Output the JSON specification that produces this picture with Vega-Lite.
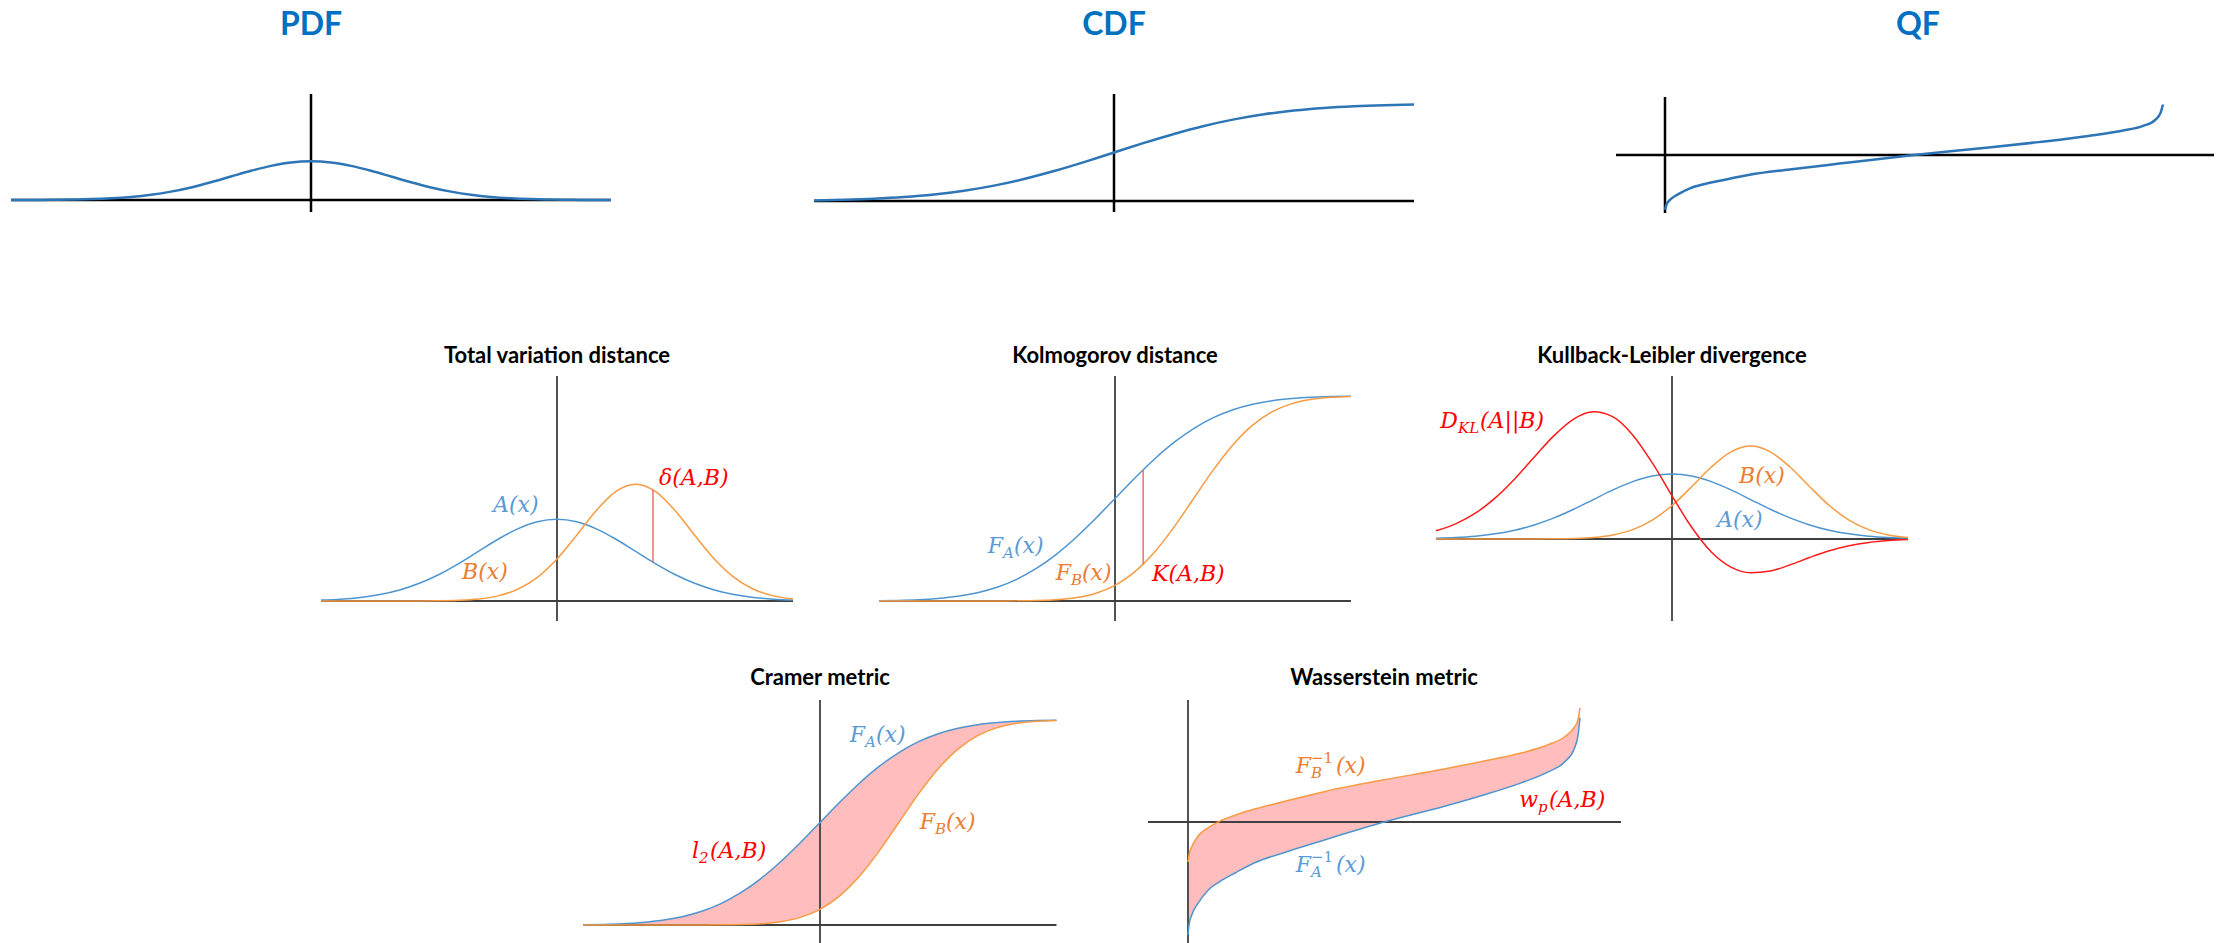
{
  "$schema": "https://vega.github.io/schema/vega-lite/v6.json",
  "background": "white",
  "padding": 0,
  "config": {"view": {"stroke": null}},
  "datasets": {
    "stdNormal": [
      {"x": -4, "pdf": 0.00013, "cdf": 0.00003},
      {"x": -3.75, "pdf": 0.00035, "cdf": 0.00009},
      {"x": -3.5, "pdf": 0.00087, "cdf": 0.00023},
      {"x": -3.25, "pdf": 0.00203, "cdf": 0.00058},
      {"x": -3, "pdf": 0.00443, "cdf": 0.00135},
      {"x": -2.75, "pdf": 0.00909, "cdf": 0.00298},
      {"x": -2.5, "pdf": 0.01753, "cdf": 0.00621},
      {"x": -2.25, "pdf": 0.03174, "cdf": 0.01222},
      {"x": -2, "pdf": 0.05399, "cdf": 0.02275},
      {"x": -1.75, "pdf": 0.08628, "cdf": 0.04006},
      {"x": -1.5, "pdf": 0.12952, "cdf": 0.06681},
      {"x": -1.25, "pdf": 0.18265, "cdf": 0.10565},
      {"x": -1, "pdf": 0.24197, "cdf": 0.15866},
      {"x": -0.75, "pdf": 0.30114, "cdf": 0.22663},
      {"x": -0.5, "pdf": 0.35207, "cdf": 0.30854},
      {"x": -0.25, "pdf": 0.38667, "cdf": 0.40129},
      {"x": 0, "pdf": 0.39894, "cdf": 0.5},
      {"x": 0.25, "pdf": 0.38667, "cdf": 0.59871},
      {"x": 0.5, "pdf": 0.35207, "cdf": 0.69146},
      {"x": 0.75, "pdf": 0.30114, "cdf": 0.77337},
      {"x": 1, "pdf": 0.24197, "cdf": 0.84134},
      {"x": 1.25, "pdf": 0.18265, "cdf": 0.89435},
      {"x": 1.5, "pdf": 0.12952, "cdf": 0.93319},
      {"x": 1.75, "pdf": 0.08628, "cdf": 0.95994},
      {"x": 2, "pdf": 0.05399, "cdf": 0.97725},
      {"x": 2.25, "pdf": 0.03174, "cdf": 0.98778},
      {"x": 2.5, "pdf": 0.01753, "cdf": 0.99379},
      {"x": 2.75, "pdf": 0.00909, "cdf": 0.99702},
      {"x": 3, "pdf": 0.00443, "cdf": 0.99865},
      {"x": 3.25, "pdf": 0.00203, "cdf": 0.99942},
      {"x": 3.5, "pdf": 0.00087, "cdf": 0.99977},
      {"x": 3.75, "pdf": 0.00035, "cdf": 0.99991},
      {"x": 4, "pdf": 0.00013, "cdf": 0.99997}
    ],
    "pair": [
      {"x": -3, "a": 0.00443, "b": 0.0, "fa": 0.00135, "fb": 0.0, "kl": 0.05083},
      {"x": -2.75, "a": 0.00909, "b": 0.0000003, "fa": 0.00298, "fb": 0.0, "kl": 0.09286},
      {"x": -2.5, "a": 0.01753, "b": 0.000002, "fa": 0.00621, "fb": 0.0000003, "kl": 0.15807},
      {"x": -2.25, "a": 0.03174, "b": 0.000012, "fa": 0.01222, "fb": 0.000002, "kl": 0.25043},
      {"x": -2, "a": 0.05399, "b": 0.000058, "fa": 0.02275, "fb": 0.000009, "kl": 0.36861},
      {"x": -1.75, "a": 0.08628, "b": 0.00025, "fa": 0.04006, "fb": 0.00004, "kl": 0.50291},
      {"x": -1.5, "a": 0.12952, "b": 0.00097, "fa": 0.06681, "fb": 0.00018, "kl": 0.63413},
      {"x": -1.25, "a": 0.18265, "b": 0.00325, "fa": 0.10565, "fb": 0.00065, "kl": 0.73571},
      {"x": -1, "a": 0.24197, "b": 0.00962, "fa": 0.15866, "fb": 0.00214, "kl": 0.78036},
      {"x": -0.75, "a": 0.30114, "b": 0.02504, "fa": 0.22663, "fb": 0.00621, "kl": 0.74893},
      {"x": -0.5, "a": 0.35207, "b": 0.05736, "fa": 0.30854, "fb": 0.01606, "kl": 0.63865},
      {"x": -0.25, "a": 0.38667, "b": 0.1157, "fa": 0.40129, "fb": 0.03706, "kl": 0.46652},
      {"x": 0, "a": 0.39894, "b": 0.20543, "fa": 0.5, "fb": 0.07656, "kl": 0.26478},
      {"x": 0.25, "a": 0.38667, "b": 0.32102, "fa": 0.59871, "fb": 0.14199, "kl": 0.07194},
      {"x": 0.5, "a": 0.35207, "b": 0.44156, "fa": 0.69146, "fb": 0.23753, "kl": -0.07977},
      {"x": 0.75, "a": 0.30114, "b": 0.53471, "fa": 0.77337, "fb": 0.36051, "kl": -0.1729},
      {"x": 1, "a": 0.24197, "b": 0.56992, "fa": 0.84134, "fb": 0.5, "kl": -0.20729},
      {"x": 1.25, "a": 0.18265, "b": 0.53471, "fa": 0.89435, "fb": 0.63949, "kl": -0.19619},
      {"x": 1.5, "a": 0.12952, "b": 0.44156, "fa": 0.93319, "fb": 0.76247, "kl": -0.15886},
      {"x": 1.75, "a": 0.08628, "b": 0.32102, "fa": 0.95994, "fb": 0.85801, "kl": -0.11336},
      {"x": 2, "a": 0.05399, "b": 0.20543, "fa": 0.97725, "fb": 0.92344, "kl": -0.07215},
      {"x": 2.25, "a": 0.03174, "b": 0.1157, "fa": 0.98778, "fb": 0.96294, "kl": -0.04106},
      {"x": 2.5, "a": 0.01753, "b": 0.05736, "fa": 0.99379, "fb": 0.98394, "kl": -0.02078},
      {"x": 2.75, "a": 0.00909, "b": 0.02504, "fa": 0.99702, "fb": 0.99379, "kl": -0.00921},
      {"x": 3, "a": 0.00443, "b": 0.00962, "fa": 0.99865, "fb": 0.99786, "kl": -0.00344}
    ],
    "quant": [
      {"p": 0, "qa": -3.32, "qb": -1.18},
      {"p": 0.003, "qa": -3.0, "qb": -0.95},
      {"p": 0.01, "qa": -2.72, "qb": -0.72},
      {"p": 0.025, "qa": -2.4, "qb": -0.42},
      {"p": 0.05, "qa": -2.02, "qb": -0.18},
      {"p": 0.08, "qa": -1.76, "qb": 0.02},
      {"p": 0.12, "qa": -1.5, "qb": 0.2},
      {"p": 0.17, "qa": -1.2, "qb": 0.38},
      {"p": 0.25, "qa": -0.88, "qb": 0.62},
      {"p": 0.35, "qa": -0.52, "qb": 0.9},
      {"p": 0.5, "qa": 0, "qb": 1.24},
      {"p": 0.65, "qa": 0.45, "qb": 1.55},
      {"p": 0.75, "qa": 0.78, "qb": 1.78},
      {"p": 0.85, "qa": 1.15, "qb": 2.03},
      {"p": 0.92, "qa": 1.48, "qb": 2.28},
      {"p": 0.96, "qa": 1.76, "qb": 2.5},
      {"p": 0.985, "qa": 2.15, "qb": 2.78},
      {"p": 0.995, "qa": 2.55, "qb": 3.02},
      {"p": 1, "qa": 3.06, "qb": 3.36}
    ],
    "labelsTV": [
      {"x": -0.8135, "y": 0.434, "series": "A", "part": "whole", "text": "A(x)"},
      {"x": -1.2076, "y": 0.1073, "series": "B", "part": "whole", "text": "B(x)"},
      {"x": 1.2966, "y": 0.5659, "series": "D", "part": "whole", "text": "δ(A,B)"}
    ],
    "labelsK": [
      {"x": -1.4237, "y": 0.2341, "series": "A", "part": "main", "text": "F"},
      {"x": -1.4237, "y": 0.2341, "series": "A", "part": "sub", "text": "A"},
      {"x": -1.4237, "y": 0.2341, "series": "A", "part": "tail", "text": "(x)"},
      {"x": -0.5593, "y": 0.1024, "series": "B", "part": "main", "text": "F"},
      {"x": -0.5593, "y": 0.1024, "series": "B", "part": "sub", "text": "B"},
      {"x": -0.5593, "y": 0.1024, "series": "B", "part": "tail", "text": "(x)"},
      {"x": 0.4703, "y": 0.0976, "series": "D", "part": "whole", "text": "K(A,B)"}
    ],
    "labelsKL": [
      {"x": -2.7202, "y": 0.681, "series": "D", "part": "main", "text": "D"},
      {"x": -2.7202, "y": 0.681, "series": "D", "part": "sub", "text": "KL"},
      {"x": -2.7202, "y": 0.681, "series": "D", "part": "tailwide", "text": "(A||B)"},
      {"x": 0.8517, "y": 0.3436, "series": "B", "part": "whole", "text": "B(x)"},
      {"x": 0.572, "y": 0.0736, "series": "A", "part": "whole", "text": "A(x)"}
    ],
    "labelsCR": [
      {"x": 0.5708, "y": 0.8927, "series": "A", "part": "main", "text": "F"},
      {"x": 0.5708, "y": 0.8927, "series": "A", "part": "sub", "text": "A"},
      {"x": 0.5708, "y": 0.8927, "series": "A", "part": "tail", "text": "(x)"},
      {"x": 1.4588, "y": 0.4683, "series": "B", "part": "main", "text": "F"},
      {"x": 1.4588, "y": 0.4683, "series": "B", "part": "sub", "text": "B"},
      {"x": 1.4588, "y": 0.4683, "series": "B", "part": "tail", "text": "(x)"},
      {"x": -1.535, "y": 0.3268, "series": "D", "part": "main", "text": "l"},
      {"x": -1.535, "y": 0.3268, "series": "D", "part": "sub", "text": "2"},
      {"x": -1.535, "y": 0.3268, "series": "D", "part": "tail", "text": "(A,B)"}
    ],
    "labelsW": [
      {"x": 0.3138, "y": 1.441, "series": "B", "part": "main", "text": "F"},
      {"x": 0.3138, "y": 1.441, "series": "B", "part": "sub", "text": "B"},
      {"x": 0.3138, "y": 1.441, "series": "B", "part": "sup", "text": "−1"},
      {"x": 0.3138, "y": 1.441, "series": "B", "part": "tailwide", "text": "(x)"},
      {"x": 0.3138, "y": -1.4706, "series": "A", "part": "main", "text": "F"},
      {"x": 0.3138, "y": -1.4706, "series": "A", "part": "sub", "text": "A"},
      {"x": 0.3138, "y": -1.4706, "series": "A", "part": "sup", "text": "−1"},
      {"x": 0.3138, "y": -1.4706, "series": "A", "part": "tailwide", "text": "(x)"},
      {"x": 0.8929, "y": 0.4412, "series": "D", "part": "main", "text": "w"},
      {"x": 0.8929, "y": 0.4412, "series": "D", "part": "sub", "text": "p"},
      {"x": 0.8929, "y": 0.4412, "series": "D", "part": "tail", "text": "(A,B)"}
    ]
  },
  "spacing": 0,
  "vconcat": [
    {
      "spacing": 0,
      "bounds": "flush",
      "hconcat": [
        {
          "width": 622, "height": 300,
          "layer": [
            {"data": {"values": [{}]}, "mark": {"type": "rule", "color": "#000000", "strokeWidth": 2.5},
             "encoding": {
               "x": {"datum": -3.75, "type": "quantitative", "scale": {"domain": [-3.8875, 3.8875], "nice": false, "zero": false}, "axis": null},
               "x2": {"datum": 3.75},
               "y": {"datum": 0, "type": "quantitative", "scale": {"domain": [-1.0309, 2.0619], "nice": false, "zero": false}, "axis": null}}},
            {"data": {"values": [{}]}, "mark": {"type": "rule", "color": "#000000", "strokeWidth": 2.5},
             "encoding": {
               "x": {"datum": 0, "type": "quantitative", "scale": {"domain": [-3.8875, 3.8875], "nice": false, "zero": false}, "axis": null},
               "y": {"datum": -0.1237, "type": "quantitative", "scale": {"domain": [-1.0309, 2.0619], "nice": false, "zero": false}, "axis": null},
               "y2": {"datum": 1.0928}}},
            {"data": {"name": "stdNormal"}, "transform": [{"filter": "datum.x >= -3.75 && datum.x <= 3.75"}],
             "mark": {"type": "line", "color": "#2e75b6", "strokeWidth": 2.5, "interpolate": "monotone"},
             "encoding": {
               "x": {"field": "x", "type": "quantitative", "scale": {"domain": [-3.8875, 3.8875], "nice": false, "zero": false}, "axis": null},
               "y": {"field": "pdf", "type": "quantitative", "scale": {"domain": [-1.0309, 2.0619], "nice": false, "zero": false}, "axis": null}}},
            {"data": {"values": [{}]},
             "mark": {"type": "text", "text": "PDF", "font": "Lato", "fontWeight": "bold", "fontSize": 32, "color": "#0070c0", "align": "center", "baseline": "alphabetic"},
             "encoding": {
               "x": {"datum": 0, "type": "quantitative", "scale": {"domain": [-3.8875, 3.8875], "nice": false, "zero": false}, "axis": null},
               "y": {"datum": 1.701, "type": "quantitative", "scale": {"domain": [-1.0309, 2.0619], "nice": false, "zero": false}, "axis": null}}}
          ]
        },
        {
          "width": 984, "height": 300,
          "layer": [
            {"data": {"values": [{}]}, "mark": {"type": "rule", "color": "#000000", "strokeWidth": 2.5},
             "encoding": {
               "x": {"datum": -2.5, "type": "quantitative", "scale": {"domain": [-4.1, 4.1], "nice": false, "zero": false}, "axis": null},
               "x2": {"datum": 2.5},
               "y": {"datum": 0, "type": "quantitative", "scale": {"domain": [-1.0206, 2.0722], "nice": false, "zero": false}, "axis": null}}},
            {"data": {"values": [{}]}, "mark": {"type": "rule", "color": "#000000", "strokeWidth": 2.5},
             "encoding": {
               "x": {"datum": 0, "type": "quantitative", "scale": {"domain": [-4.1, 4.1], "nice": false, "zero": false}, "axis": null},
               "y": {"datum": -0.1134, "type": "quantitative", "scale": {"domain": [-1.0206, 2.0722], "nice": false, "zero": false}, "axis": null},
               "y2": {"datum": 1.1031}}},
            {"data": {"name": "stdNormal"}, "transform": [{"filter": "datum.x >= -2.5 && datum.x <= 2.5"}],
             "mark": {"type": "line", "color": "#2e75b6", "strokeWidth": 2.5, "interpolate": "monotone"},
             "encoding": {
               "x": {"field": "x", "type": "quantitative", "scale": {"domain": [-4.1, 4.1], "nice": false, "zero": false}, "axis": null},
               "y": {"field": "cdf", "type": "quantitative", "scale": {"domain": [-1.0206, 2.0722], "nice": false, "zero": false}, "axis": null}}},
            {"data": {"values": [{}]},
             "mark": {"type": "text", "text": "CDF", "font": "Lato", "fontWeight": "bold", "fontSize": 32, "color": "#0070c0", "align": "center", "baseline": "alphabetic"},
             "encoding": {
               "x": {"datum": 0, "type": "quantitative", "scale": {"domain": [-4.1, 4.1], "nice": false, "zero": false}, "axis": null},
               "y": {"datum": 1.7113, "type": "quantitative", "scale": {"domain": [-1.0206, 2.0722], "nice": false, "zero": false}, "axis": null}}}
          ]
        },
        {
          "width": 618, "height": 300,
          "layer": [
            {"data": {"values": [{}]}, "mark": {"type": "rule", "color": "#000000", "strokeWidth": 2.5},
             "encoding": {
               "x": {"datum": -0.0984, "type": "quantitative", "scale": {"domain": [-0.11847, 1.12249], "nice": false, "zero": false}, "axis": null},
               "x2": {"datum": 1.1024},
               "y": {"datum": 0, "type": "quantitative", "scale": {"domain": [-8.7879, 9.3939], "nice": false, "zero": false}, "axis": null}}},
            {"data": {"values": [{}]}, "mark": {"type": "rule", "color": "#000000", "strokeWidth": 2.5},
             "encoding": {
               "x": {"datum": 0, "type": "quantitative", "scale": {"domain": [-0.11847, 1.12249], "nice": false, "zero": false}, "axis": null},
               "y": {"datum": -3.515, "type": "quantitative", "scale": {"domain": [-8.7879, 9.3939], "nice": false, "zero": false}, "axis": null},
               "y2": {"datum": 3.515}}},
            {"data": {"name": "quant"},
             "mark": {"type": "line", "color": "#2e75b6", "strokeWidth": 2.5, "interpolate": "monotone"},
             "encoding": {
               "x": {"field": "p", "type": "quantitative", "scale": {"domain": [-0.11847, 1.12249], "nice": false, "zero": false}, "axis": null},
               "y": {"field": "qa", "type": "quantitative", "scale": {"domain": [-8.7879, 9.3939], "nice": false, "zero": false}, "axis": null}}},
            {"data": {"values": [{}]},
             "mark": {"type": "text", "text": "QF", "font": "Lato", "fontWeight": "bold", "fontSize": 32, "color": "#0070c0", "align": "center", "baseline": "alphabetic"},
             "encoding": {
               "x": {"datum": 0.508, "type": "quantitative", "scale": {"domain": [-0.11847, 1.12249], "nice": false, "zero": false}, "axis": null},
               "y": {"datum": 7.2727, "type": "quantitative", "scale": {"domain": [-8.7879, 9.3939], "nice": false, "zero": false}, "axis": null}}}
          ]
        }
      ]
    },
    {
      "spacing": 0,
      "bounds": "flush",
      "hconcat": [
        {"width": 300, "height": 10, "data": {"values": []}, "mark": "point", "encoding": {}},
        {
          "width": 514, "height": 340,
          "layer": [
            {"data": {"values": [{}]}, "mark": {"type": "rule", "color": "#404040", "strokeWidth": 1.8},
             "encoding": {
               "x": {"datum": -3, "type": "quantitative", "scale": {"domain": [-3.2668, 3.2668], "nice": false, "zero": false}, "axis": null},
               "x2": {"datum": 3},
               "y": {"datum": 0, "type": "quantitative", "scale": {"domain": [-0.1902, 1.4683], "nice": false, "zero": false}, "axis": null}}},
            {"data": {"values": [{}]}, "mark": {"type": "rule", "color": "#404040", "strokeWidth": 1.8},
             "encoding": {
               "x": {"datum": 0, "type": "quantitative", "scale": {"domain": [-3.2668, 3.2668], "nice": false, "zero": false}, "axis": null},
               "y": {"datum": -0.0976, "type": "quantitative", "scale": {"domain": [-0.1902, 1.4683], "nice": false, "zero": false}, "axis": null},
               "y2": {"datum": 1.0976}}},
            {"data": {"name": "pair"},
             "mark": {"type": "line", "color": "#4e95d0", "strokeWidth": 1.5, "interpolate": "monotone"},
             "encoding": {
               "x": {"field": "x", "type": "quantitative", "scale": {"domain": [-3.2668, 3.2668], "nice": false, "zero": false}, "axis": null},
               "y": {"field": "a", "type": "quantitative", "scale": {"domain": [-0.1902, 1.4683], "nice": false, "zero": false}, "axis": null}}},
            {"data": {"name": "pair"},
             "mark": {"type": "line", "color": "#f79b42", "strokeWidth": 1.5, "interpolate": "monotone"},
             "encoding": {
               "x": {"field": "x", "type": "quantitative", "scale": {"domain": [-3.2668, 3.2668], "nice": false, "zero": false}, "axis": null},
               "y": {"field": "b", "type": "quantitative", "scale": {"domain": [-0.1902, 1.4683], "nice": false, "zero": false}, "axis": null}}},
            {"data": {"values": [{"x": 1.22, "lo": 0.1895, "hi": 0.5424}]},
             "mark": {"type": "rule", "color": "#ef6f6f", "strokeWidth": 1.5},
             "encoding": {
               "x": {"field": "x", "type": "quantitative", "scale": {"domain": [-3.2668, 3.2668], "nice": false, "zero": false}, "axis": null},
               "y": {"field": "lo", "type": "quantitative", "scale": {"domain": [-0.1902, 1.4683], "nice": false, "zero": false}, "axis": null},
               "y2": {"field": "hi"}}},
            {"data": {"values": [{}]},
             "mark": {"type": "text", "text": "Total variation distance", "font": "Lato", "fontWeight": "bold", "fontSize": 22, "color": "#000000", "align": "center", "baseline": "alphabetic"},
             "encoding": {
               "x": {"datum": 0, "type": "quantitative", "scale": {"domain": [-3.2668, 3.2668], "nice": false, "zero": false}, "axis": null},
               "y": {"datum": 1.161, "type": "quantitative", "scale": {"domain": [-0.1902, 1.4683], "nice": false, "zero": false}, "axis": null}}},
            {"data": {"name": "labelsTV"}, "transform": [{"filter": "datum.part === 'whole'"}],
             "mark": {"type": "text", "align": "left", "baseline": "alphabetic", "font": "DejaVu Serif", "fontStyle": "italic", "fontSize": 22},
             "encoding": {
               "x": {"field": "x", "type": "quantitative", "scale": {"domain": [-3.2668, 3.2668], "nice": false, "zero": false}, "axis": null},
               "y": {"field": "y", "type": "quantitative", "scale": {"domain": [-0.1902, 1.4683], "nice": false, "zero": false}, "axis": null},
               "text": {"field": "text"},
               "color": {"field": "series", "type": "nominal", "scale": {"domain": ["A", "B", "D"], "range": ["#5b9bd5", "#ed7d31", "#ff0000"]}, "legend": null}}}
          ]
        },
        {
          "width": 602, "height": 340,
          "layer": [
            {"data": {"values": [{}]}, "mark": {"type": "rule", "color": "#404040", "strokeWidth": 1.8},
             "encoding": {
               "x": {"datum": -3, "type": "quantitative", "scale": {"domain": [-3.8261, 3.8261], "nice": false, "zero": false}, "axis": null},
               "x2": {"datum": 3},
               "y": {"datum": 0, "type": "quantitative", "scale": {"domain": [-0.1902, 1.4683], "nice": false, "zero": false}, "axis": null}}},
            {"data": {"values": [{}]}, "mark": {"type": "rule", "color": "#404040", "strokeWidth": 1.8},
             "encoding": {
               "x": {"datum": 0, "type": "quantitative", "scale": {"domain": [-3.8261, 3.8261], "nice": false, "zero": false}, "axis": null},
               "y": {"datum": -0.0976, "type": "quantitative", "scale": {"domain": [-0.1902, 1.4683], "nice": false, "zero": false}, "axis": null},
               "y2": {"datum": 1.0976}}},
            {"data": {"name": "pair"},
             "mark": {"type": "line", "color": "#4e95d0", "strokeWidth": 1.5, "interpolate": "monotone"},
             "encoding": {
               "x": {"field": "x", "type": "quantitative", "scale": {"domain": [-3.8261, 3.8261], "nice": false, "zero": false}, "axis": null},
               "y": {"field": "fa", "type": "quantitative", "scale": {"domain": [-0.1902, 1.4683], "nice": false, "zero": false}, "axis": null}}},
            {"data": {"name": "pair"},
             "mark": {"type": "line", "color": "#f79b42", "strokeWidth": 1.5, "interpolate": "monotone"},
             "encoding": {
               "x": {"field": "x", "type": "quantitative", "scale": {"domain": [-3.8261, 3.8261], "nice": false, "zero": false}, "axis": null},
               "y": {"field": "fb", "type": "quantitative", "scale": {"domain": [-0.1902, 1.4683], "nice": false, "zero": false}, "axis": null}}},
            {"data": {"values": [{"x": 0.358, "lo": 0.1796, "hi": 0.6398}]},
             "mark": {"type": "rule", "color": "#ef6f6f", "strokeWidth": 1.5},
             "encoding": {
               "x": {"field": "x", "type": "quantitative", "scale": {"domain": [-3.8261, 3.8261], "nice": false, "zero": false}, "axis": null},
               "y": {"field": "lo", "type": "quantitative", "scale": {"domain": [-0.1902, 1.4683], "nice": false, "zero": false}, "axis": null},
               "y2": {"field": "hi"}}},
            {"data": {"values": [{}]},
             "mark": {"type": "text", "text": "Kolmogorov distance", "font": "Lato", "fontWeight": "bold", "fontSize": 22, "color": "#000000", "align": "center", "baseline": "alphabetic"},
             "encoding": {
               "x": {"datum": 0, "type": "quantitative", "scale": {"domain": [-3.8261, 3.8261], "nice": false, "zero": false}, "axis": null},
               "y": {"datum": 1.161, "type": "quantitative", "scale": {"domain": [-0.1902, 1.4683], "nice": false, "zero": false}, "axis": null}}},
            {"data": {"name": "labelsK"}, "transform": [{"filter": "datum.part === 'whole'"}],
             "mark": {"type": "text", "align": "left", "baseline": "alphabetic", "font": "DejaVu Serif", "fontStyle": "italic", "fontSize": 22},
             "encoding": {
               "x": {"field": "x", "type": "quantitative", "scale": {"domain": [-3.8261, 3.8261], "nice": false, "zero": false}, "axis": null},
               "y": {"field": "y", "type": "quantitative", "scale": {"domain": [-0.1902, 1.4683], "nice": false, "zero": false}, "axis": null},
               "text": {"field": "text"},
               "color": {"field": "series", "type": "nominal", "scale": {"domain": ["A", "B", "D"], "range": ["#5b9bd5", "#ed7d31", "#ff0000"]}, "legend": null}}},
            {"data": {"name": "labelsK"}, "transform": [{"filter": "datum.part === 'main'"}],
             "mark": {"type": "text", "align": "right", "baseline": "alphabetic", "font": "DejaVu Serif", "fontStyle": "italic", "fontSize": 22},
             "encoding": {
               "x": {"field": "x", "type": "quantitative", "scale": {"domain": [-3.8261, 3.8261], "nice": false, "zero": false}, "axis": null},
               "y": {"field": "y", "type": "quantitative", "scale": {"domain": [-0.1902, 1.4683], "nice": false, "zero": false}, "axis": null},
               "text": {"field": "text"},
               "color": {"field": "series", "type": "nominal", "scale": {"domain": ["A", "B", "D"], "range": ["#5b9bd5", "#ed7d31", "#ff0000"]}, "legend": null}}},
            {"data": {"name": "labelsK"}, "transform": [{"filter": "datum.part === 'sub'"}],
             "mark": {"type": "text", "align": "left", "baseline": "alphabetic", "font": "DejaVu Serif", "fontStyle": "italic", "fontSize": 15, "dy": 5},
             "encoding": {
               "x": {"field": "x", "type": "quantitative", "scale": {"domain": [-3.8261, 3.8261], "nice": false, "zero": false}, "axis": null},
               "y": {"field": "y", "type": "quantitative", "scale": {"domain": [-0.1902, 1.4683], "nice": false, "zero": false}, "axis": null},
               "text": {"field": "text"},
               "color": {"field": "series", "type": "nominal", "scale": {"domain": ["A", "B", "D"], "range": ["#5b9bd5", "#ed7d31", "#ff0000"]}, "legend": null}}},
            {"data": {"name": "labelsK"}, "transform": [{"filter": "datum.part === 'tail'"}],
             "mark": {"type": "text", "align": "left", "baseline": "alphabetic", "font": "DejaVu Serif", "fontStyle": "italic", "fontSize": 22, "dx": 11},
             "encoding": {
               "x": {"field": "x", "type": "quantitative", "scale": {"domain": [-3.8261, 3.8261], "nice": false, "zero": false}, "axis": null},
               "y": {"field": "y", "type": "quantitative", "scale": {"domain": [-0.1902, 1.4683], "nice": false, "zero": false}, "axis": null},
               "text": {"field": "text"},
               "color": {"field": "series", "type": "nominal", "scale": {"domain": ["A", "B", "D"], "range": ["#5b9bd5", "#ed7d31", "#ff0000"]}, "legend": null}}}
          ]
        },
        {
          "width": 512, "height": 340,
          "layer": [
            {"data": {"values": [{}]}, "mark": {"type": "rule", "color": "#404040", "strokeWidth": 1.8},
             "encoding": {
               "x": {"datum": -3, "type": "quantitative", "scale": {"domain": [-3.2541, 3.2541], "nice": false, "zero": false}, "axis": null},
               "x2": {"datum": 3},
               "y": {"datum": 0, "type": "quantitative", "scale": {"domain": [-0.6196, 1.4663], "nice": false, "zero": false}, "axis": null}}},
            {"data": {"values": [{}]}, "mark": {"type": "rule", "color": "#404040", "strokeWidth": 1.8},
             "encoding": {
               "x": {"datum": 0, "type": "quantitative", "scale": {"domain": [-3.2541, 3.2541], "nice": false, "zero": false}, "axis": null},
               "y": {"datum": -0.5031, "type": "quantitative", "scale": {"domain": [-0.6196, 1.4663], "nice": false, "zero": false}, "axis": null},
               "y2": {"datum": 1.0}}},
            {"data": {"name": "pair"},
             "mark": {"type": "line", "color": "#4e95d0", "strokeWidth": 1.5, "interpolate": "monotone"},
             "encoding": {
               "x": {"field": "x", "type": "quantitative", "scale": {"domain": [-3.2541, 3.2541], "nice": false, "zero": false}, "axis": null},
               "y": {"field": "a", "type": "quantitative", "scale": {"domain": [-0.6196, 1.4663], "nice": false, "zero": false}, "axis": null}}},
            {"data": {"name": "pair"},
             "mark": {"type": "line", "color": "#f79b42", "strokeWidth": 1.5, "interpolate": "monotone"},
             "encoding": {
               "x": {"field": "x", "type": "quantitative", "scale": {"domain": [-3.2541, 3.2541], "nice": false, "zero": false}, "axis": null},
               "y": {"field": "b", "type": "quantitative", "scale": {"domain": [-0.6196, 1.4663], "nice": false, "zero": false}, "axis": null}}},
            {"data": {"name": "pair"},
             "mark": {"type": "line", "color": "#ff1a1a", "strokeWidth": 1.5, "interpolate": "monotone"},
             "encoding": {
               "x": {"field": "x", "type": "quantitative", "scale": {"domain": [-3.2541, 3.2541], "nice": false, "zero": false}, "axis": null},
               "y": {"field": "kl", "type": "quantitative", "scale": {"domain": [-0.6196, 1.4663], "nice": false, "zero": false}, "axis": null}}},
            {"data": {"values": [{}]},
             "mark": {"type": "text", "text": "Kullback-Leibler divergence", "font": "Lato", "fontWeight": "bold", "fontSize": 22, "color": "#000000", "align": "center", "baseline": "alphabetic"},
             "encoding": {
               "x": {"datum": 0, "type": "quantitative", "scale": {"domain": [-3.2541, 3.2541], "nice": false, "zero": false}, "axis": null},
               "y": {"datum": 1.0798, "type": "quantitative", "scale": {"domain": [-0.6196, 1.4663], "nice": false, "zero": false}, "axis": null}}},
            {"data": {"name": "labelsKL"}, "transform": [{"filter": "datum.part === 'whole'"}],
             "mark": {"type": "text", "align": "left", "baseline": "alphabetic", "font": "DejaVu Serif", "fontStyle": "italic", "fontSize": 22},
             "encoding": {
               "x": {"field": "x", "type": "quantitative", "scale": {"domain": [-3.2541, 3.2541], "nice": false, "zero": false}, "axis": null},
               "y": {"field": "y", "type": "quantitative", "scale": {"domain": [-0.6196, 1.4663], "nice": false, "zero": false}, "axis": null},
               "text": {"field": "text"},
               "color": {"field": "series", "type": "nominal", "scale": {"domain": ["A", "B", "D"], "range": ["#5b9bd5", "#ed7d31", "#ff0000"]}, "legend": null}}},
            {"data": {"name": "labelsKL"}, "transform": [{"filter": "datum.part === 'main'"}],
             "mark": {"type": "text", "align": "right", "baseline": "alphabetic", "font": "DejaVu Serif", "fontStyle": "italic", "fontSize": 22},
             "encoding": {
               "x": {"field": "x", "type": "quantitative", "scale": {"domain": [-3.2541, 3.2541], "nice": false, "zero": false}, "axis": null},
               "y": {"field": "y", "type": "quantitative", "scale": {"domain": [-0.6196, 1.4663], "nice": false, "zero": false}, "axis": null},
               "text": {"field": "text"},
               "color": {"field": "series", "type": "nominal", "scale": {"domain": ["A", "B", "D"], "range": ["#5b9bd5", "#ed7d31", "#ff0000"]}, "legend": null}}},
            {"data": {"name": "labelsKL"}, "transform": [{"filter": "datum.part === 'sub'"}],
             "mark": {"type": "text", "align": "left", "baseline": "alphabetic", "font": "DejaVu Serif", "fontStyle": "italic", "fontSize": 15, "dy": 5},
             "encoding": {
               "x": {"field": "x", "type": "quantitative", "scale": {"domain": [-3.2541, 3.2541], "nice": false, "zero": false}, "axis": null},
               "y": {"field": "y", "type": "quantitative", "scale": {"domain": [-0.6196, 1.4663], "nice": false, "zero": false}, "axis": null},
               "text": {"field": "text"},
               "color": {"field": "series", "type": "nominal", "scale": {"domain": ["A", "B", "D"], "range": ["#5b9bd5", "#ed7d31", "#ff0000"]}, "legend": null}}},
            {"data": {"name": "labelsKL"}, "transform": [{"filter": "datum.part === 'tailwide'"}],
             "mark": {"type": "text", "align": "left", "baseline": "alphabetic", "font": "DejaVu Serif", "fontStyle": "italic", "fontSize": 22, "dx": 22},
             "encoding": {
               "x": {"field": "x", "type": "quantitative", "scale": {"domain": [-3.2541, 3.2541], "nice": false, "zero": false}, "axis": null},
               "y": {"field": "y", "type": "quantitative", "scale": {"domain": [-0.6196, 1.4663], "nice": false, "zero": false}, "axis": null},
               "text": {"field": "text"},
               "color": {"field": "series", "type": "nominal", "scale": {"domain": ["A", "B", "D"], "range": ["#5b9bd5", "#ed7d31", "#ff0000"]}, "legend": null}}}
          ]
        }
      ]
    },
    {
      "spacing": 0,
      "bounds": "flush",
      "hconcat": [
        {"width": 583, "height": 10, "data": {"values": []}, "mark": "point", "encoding": {}},
        {
          "width": 474, "height": 303,
          "layer": [
            {"data": {"name": "pair"},
             "mark": {"type": "area", "color": "#ffbdbd", "interpolate": "monotone"},
             "encoding": {
               "x": {"field": "x", "type": "quantitative", "scale": {"domain": [-3.0065, 3.0065], "nice": false, "zero": false}, "axis": null},
               "y": {"field": "fa", "type": "quantitative", "scale": {"domain": [-0.0878, 1.3902], "nice": false, "zero": false}, "axis": null},
               "y2": {"field": "fb"}}},
            {"data": {"values": [{}]}, "mark": {"type": "rule", "color": "#404040", "strokeWidth": 1.8},
             "encoding": {
               "x": {"datum": -3, "type": "quantitative", "scale": {"domain": [-3.0065, 3.0065], "nice": false, "zero": false}, "axis": null},
               "x2": {"datum": 3},
               "y": {"datum": 0, "type": "quantitative", "scale": {"domain": [-0.0878, 1.3902], "nice": false, "zero": false}, "axis": null}}},
            {"data": {"values": [{}]}, "mark": {"type": "rule", "color": "#404040", "strokeWidth": 1.8},
             "encoding": {
               "x": {"datum": 0, "type": "quantitative", "scale": {"domain": [-3.0065, 3.0065], "nice": false, "zero": false}, "axis": null},
               "y": {"datum": -0.0878, "type": "quantitative", "scale": {"domain": [-0.0878, 1.3902], "nice": false, "zero": false}, "axis": null},
               "y2": {"datum": 1.0976}}},
            {"data": {"name": "pair"},
             "mark": {"type": "line", "color": "#4e95d0", "strokeWidth": 1.5, "interpolate": "monotone"},
             "encoding": {
               "x": {"field": "x", "type": "quantitative", "scale": {"domain": [-3.0065, 3.0065], "nice": false, "zero": false}, "axis": null},
               "y": {"field": "fa", "type": "quantitative", "scale": {"domain": [-0.0878, 1.3902], "nice": false, "zero": false}, "axis": null}}},
            {"data": {"name": "pair"},
             "mark": {"type": "line", "color": "#f79b42", "strokeWidth": 1.5, "interpolate": "monotone"},
             "encoding": {
               "x": {"field": "x", "type": "quantitative", "scale": {"domain": [-3.0065, 3.0065], "nice": false, "zero": false}, "axis": null},
               "y": {"field": "fb", "type": "quantitative", "scale": {"domain": [-0.0878, 1.3902], "nice": false, "zero": false}, "axis": null}}},
            {"data": {"values": [{}]},
             "mark": {"type": "text", "text": "Cramer metric", "font": "Lato", "fontWeight": "bold", "fontSize": 22, "color": "#000000", "align": "center", "baseline": "alphabetic"},
             "encoding": {
               "x": {"datum": 0, "type": "quantitative", "scale": {"domain": [-3.0065, 3.0065], "nice": false, "zero": false}, "axis": null},
               "y": {"datum": 1.1707, "type": "quantitative", "scale": {"domain": [-0.0878, 1.3902], "nice": false, "zero": false}, "axis": null}}},
            {"data": {"name": "labelsCR"}, "transform": [{"filter": "datum.part === 'main'"}],
             "mark": {"type": "text", "align": "right", "baseline": "alphabetic", "font": "DejaVu Serif", "fontStyle": "italic", "fontSize": 22},
             "encoding": {
               "x": {"field": "x", "type": "quantitative", "scale": {"domain": [-3.0065, 3.0065], "nice": false, "zero": false}, "axis": null},
               "y": {"field": "y", "type": "quantitative", "scale": {"domain": [-0.0878, 1.3902], "nice": false, "zero": false}, "axis": null},
               "text": {"field": "text"},
               "color": {"field": "series", "type": "nominal", "scale": {"domain": ["A", "B", "D"], "range": ["#5b9bd5", "#ed7d31", "#ff0000"]}, "legend": null}}},
            {"data": {"name": "labelsCR"}, "transform": [{"filter": "datum.part === 'sub'"}],
             "mark": {"type": "text", "align": "left", "baseline": "alphabetic", "font": "DejaVu Serif", "fontStyle": "italic", "fontSize": 15, "dy": 5},
             "encoding": {
               "x": {"field": "x", "type": "quantitative", "scale": {"domain": [-3.0065, 3.0065], "nice": false, "zero": false}, "axis": null},
               "y": {"field": "y", "type": "quantitative", "scale": {"domain": [-0.0878, 1.3902], "nice": false, "zero": false}, "axis": null},
               "text": {"field": "text"},
               "color": {"field": "series", "type": "nominal", "scale": {"domain": ["A", "B", "D"], "range": ["#5b9bd5", "#ed7d31", "#ff0000"]}, "legend": null}}},
            {"data": {"name": "labelsCR"}, "transform": [{"filter": "datum.part === 'tail'"}],
             "mark": {"type": "text", "align": "left", "baseline": "alphabetic", "font": "DejaVu Serif", "fontStyle": "italic", "fontSize": 22, "dx": 11},
             "encoding": {
               "x": {"field": "x", "type": "quantitative", "scale": {"domain": [-3.0065, 3.0065], "nice": false, "zero": false}, "axis": null},
               "y": {"field": "y", "type": "quantitative", "scale": {"domain": [-0.0878, 1.3902], "nice": false, "zero": false}, "axis": null},
               "text": {"field": "text"},
               "color": {"field": "series", "type": "nominal", "scale": {"domain": ["A", "B", "D"], "range": ["#5b9bd5", "#ed7d31", "#ff0000"]}, "legend": null}}}
          ]
        },
        {
          "width": 655, "height": 303,
          "layer": [
            {"data": {"name": "quant"},
             "mark": {"type": "area", "color": "#ffbdbd", "interpolate": "monotone"},
             "encoding": {
               "x": {"field": "p", "type": "quantitative", "scale": {"domain": [-0.33418, 1.33673], "nice": false, "zero": false}, "axis": null},
               "y": {"field": "qa", "type": "quantitative", "scale": {"domain": [-3.5588, 5.3529], "nice": false, "zero": false}, "axis": null},
               "y2": {"field": "qb"}}},
            {"data": {"values": [{}]}, "mark": {"type": "rule", "color": "#404040", "strokeWidth": 1.8},
             "encoding": {
               "x": {"datum": -0.102, "type": "quantitative", "scale": {"domain": [-0.33418, 1.33673], "nice": false, "zero": false}, "axis": null},
               "x2": {"datum": 1.1046},
               "y": {"datum": 0, "type": "quantitative", "scale": {"domain": [-3.5588, 5.3529], "nice": false, "zero": false}, "axis": null}}},
            {"data": {"values": [{}]}, "mark": {"type": "rule", "color": "#404040", "strokeWidth": 1.8},
             "encoding": {
               "x": {"datum": 0, "type": "quantitative", "scale": {"domain": [-0.33418, 1.33673], "nice": false, "zero": false}, "axis": null},
               "y": {"datum": -3.5588, "type": "quantitative", "scale": {"domain": [-3.5588, 5.3529], "nice": false, "zero": false}, "axis": null},
               "y2": {"datum": 3.5882}}},
            {"data": {"name": "quant"},
             "mark": {"type": "line", "color": "#4e95d0", "strokeWidth": 1.5, "interpolate": "monotone"},
             "encoding": {
               "x": {"field": "p", "type": "quantitative", "scale": {"domain": [-0.33418, 1.33673], "nice": false, "zero": false}, "axis": null},
               "y": {"field": "qa", "type": "quantitative", "scale": {"domain": [-3.5588, 5.3529], "nice": false, "zero": false}, "axis": null}}},
            {"data": {"name": "quant"},
             "mark": {"type": "line", "color": "#f79b42", "strokeWidth": 1.5, "interpolate": "monotone"},
             "encoding": {
               "x": {"field": "p", "type": "quantitative", "scale": {"domain": [-0.33418, 1.33673], "nice": false, "zero": false}, "axis": null},
               "y": {"field": "qb", "type": "quantitative", "scale": {"domain": [-3.5588, 5.3529], "nice": false, "zero": false}, "axis": null}}},
            {"data": {"values": [{}]},
             "mark": {"type": "text", "text": "Wasserstein metric", "font": "Lato", "fontWeight": "bold", "fontSize": 22, "color": "#000000", "align": "center", "baseline": "alphabetic"},
             "encoding": {
               "x": {"datum": 0.5, "type": "quantitative", "scale": {"domain": [-0.33418, 1.33673], "nice": false, "zero": false}, "axis": null},
               "y": {"datum": 4.0294, "type": "quantitative", "scale": {"domain": [-3.5588, 5.3529], "nice": false, "zero": false}, "axis": null}}},
            {"data": {"name": "labelsW"}, "transform": [{"filter": "datum.part === 'main'"}],
             "mark": {"type": "text", "align": "right", "baseline": "alphabetic", "font": "DejaVu Serif", "fontStyle": "italic", "fontSize": 22},
             "encoding": {
               "x": {"field": "x", "type": "quantitative", "scale": {"domain": [-0.33418, 1.33673], "nice": false, "zero": false}, "axis": null},
               "y": {"field": "y", "type": "quantitative", "scale": {"domain": [-3.5588, 5.3529], "nice": false, "zero": false}, "axis": null},
               "text": {"field": "text"},
               "color": {"field": "series", "type": "nominal", "scale": {"domain": ["A", "B", "D"], "range": ["#5b9bd5", "#ed7d31", "#ff0000"]}, "legend": null}}},
            {"data": {"name": "labelsW"}, "transform": [{"filter": "datum.part === 'sub'"}],
             "mark": {"type": "text", "align": "left", "baseline": "alphabetic", "font": "DejaVu Serif", "fontStyle": "italic", "fontSize": 15, "dy": 5},
             "encoding": {
               "x": {"field": "x", "type": "quantitative", "scale": {"domain": [-0.33418, 1.33673], "nice": false, "zero": false}, "axis": null},
               "y": {"field": "y", "type": "quantitative", "scale": {"domain": [-3.5588, 5.3529], "nice": false, "zero": false}, "axis": null},
               "text": {"field": "text"},
               "color": {"field": "series", "type": "nominal", "scale": {"domain": ["A", "B", "D"], "range": ["#5b9bd5", "#ed7d31", "#ff0000"]}, "legend": null}}},
            {"data": {"name": "labelsW"}, "transform": [{"filter": "datum.part === 'sup'"}],
             "mark": {"type": "text", "align": "left", "baseline": "alphabetic", "font": "DejaVu Serif", "fontStyle": "normal", "fontSize": 15, "dy": -10},
             "encoding": {
               "x": {"field": "x", "type": "quantitative", "scale": {"domain": [-0.33418, 1.33673], "nice": false, "zero": false}, "axis": null},
               "y": {"field": "y", "type": "quantitative", "scale": {"domain": [-3.5588, 5.3529], "nice": false, "zero": false}, "axis": null},
               "text": {"field": "text"},
               "color": {"field": "series", "type": "nominal", "scale": {"domain": ["A", "B", "D"], "range": ["#5b9bd5", "#ed7d31", "#ff0000"]}, "legend": null}}},
            {"data": {"name": "labelsW"}, "transform": [{"filter": "datum.part === 'tail'"}],
             "mark": {"type": "text", "align": "left", "baseline": "alphabetic", "font": "DejaVu Serif", "fontStyle": "italic", "fontSize": 22, "dx": 11},
             "encoding": {
               "x": {"field": "x", "type": "quantitative", "scale": {"domain": [-0.33418, 1.33673], "nice": false, "zero": false}, "axis": null},
               "y": {"field": "y", "type": "quantitative", "scale": {"domain": [-3.5588, 5.3529], "nice": false, "zero": false}, "axis": null},
               "text": {"field": "text"},
               "color": {"field": "series", "type": "nominal", "scale": {"domain": ["A", "B", "D"], "range": ["#5b9bd5", "#ed7d31", "#ff0000"]}, "legend": null}}},
            {"data": {"name": "labelsW"}, "transform": [{"filter": "datum.part === 'tailwide'"}],
             "mark": {"type": "text", "align": "left", "baseline": "alphabetic", "font": "DejaVu Serif", "fontStyle": "italic", "fontSize": 22, "dx": 25},
             "encoding": {
               "x": {"field": "x", "type": "quantitative", "scale": {"domain": [-0.33418, 1.33673], "nice": false, "zero": false}, "axis": null},
               "y": {"field": "y", "type": "quantitative", "scale": {"domain": [-3.5588, 5.3529], "nice": false, "zero": false}, "axis": null},
               "text": {"field": "text"},
               "color": {"field": "series", "type": "nominal", "scale": {"domain": ["A", "B", "D"], "range": ["#5b9bd5", "#ed7d31", "#ff0000"]}, "legend": null}}}
          ]
        }
      ]
    }
  ]
}
